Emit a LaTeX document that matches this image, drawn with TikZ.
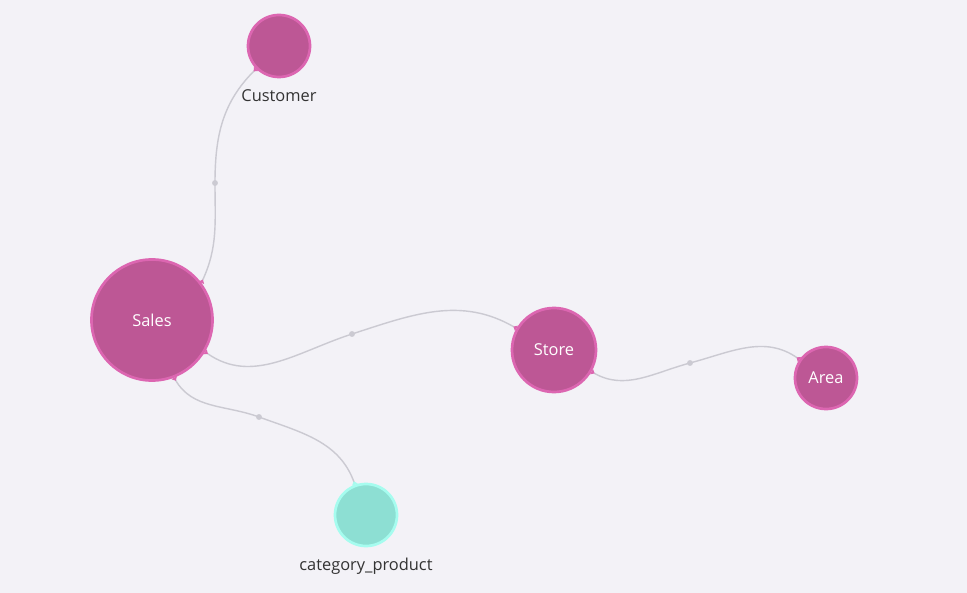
\documentclass[tikz,border=0pt]{standalone}
\usepackage{fontspec}
\setmainfont{Open Sans}
\usepackage{xcolor}
\usetikzlibrary{arrows.meta,positioning}
\definecolor{bgcol}{HTML}{F3F2F7}
\definecolor{pinkfill}{HTML}{BD5795}
\definecolor{pinkline}{HTML}{DC66B1}
\definecolor{tealfill}{HTML}{8DDFD3}
\definecolor{tealline}{HTML}{A6FCEF}
\definecolor{edgecol}{HTML}{CBCAD2}
\definecolor{txtcol}{HTML}{333333}

\begin{document}
\begin{tikzpicture}[x=0.03cm,y=-0.03cm,
  ent/.style={circle,draw=pinkline,fill=pinkfill,line width=2.3pt,inner sep=0pt,
    text=white,font=\fontsize{14}{16}\selectfont},
  dim/.style={circle,draw=tealline,fill=tealfill,line width=2.3pt,inner sep=0pt},
  lbl/.style={text=txtcol,font=\fontsize{14}{16}\selectfont,inner sep=1pt},
  link/.style={draw=edgecol,line width=1.2pt},
  midpt/.style={circle,fill=edgecol,inner sep=0pt,minimum size=5pt}]
\fill[bgcol] (0,0) rectangle (967,593);
\useasboundingbox (0,0) rectangle (967,593);
%entities
\node[ent,minimum size=3.63cm] (sales) at (152,320) {Sales};
\node[ent,minimum size=1.86cm] (cust) at (279,46) {};
\node[ent,minimum size=2.52cm] (store) at (554,350) {Store};
\node[ent,minimum size=1.86cm] (area) at (826,378) {Area};
\node[dim,minimum size=1.86cm] (catp) at (366,515) {};
\node[lbl,below=8pt of cust] (custtxt) {Customer};
\node[lbl,below=8pt of catp] (catptxt) {category\_product};
%middle points
\node[midpt] (d1) at (215,183) {};
\node[midpt] (d2) at (352,334) {};
\node[midpt] (d3) at (690,363) {};
\node[midpt] (d4) at (259,417) {};
%links
\draw[link,{Triangle[reversed,length=3pt,width=5pt,color=pinkline]}-{Triangle[reversed,length=3pt,width=5pt,color=pinkline]}]
  (sales.37) to[out=65,in=-90] (d1.center) to[out=90,in=225] (cust);
\draw[link,{Triangle[reversed,length=3pt,width=5pt,color=pinkline]}-{Triangle[reversed,length=3pt,width=5pt,color=pinkline]}]
  (sales.-31) to[out=-35,in=198] (d2.center) to[out=18,in=150] (store);
\draw[link,{Triangle[reversed,length=3pt,width=5pt,color=pinkline]}-{Triangle[reversed,length=3pt,width=5pt,color=pinkline]}]
  (store) to[out=-30,in=195] (d3.center) to[out=15,in=145] (area);
\draw[link,{Triangle[reversed,length=3pt,width=5pt,color=pinkline]}-{Triangle[reversed,length=3pt,width=5pt,color=tealline]}]
  (sales.-69) to[out=-60,in=160] (d4.center) to[out=-20,in=110] (catp);
\end{tikzpicture}
\end{document}
